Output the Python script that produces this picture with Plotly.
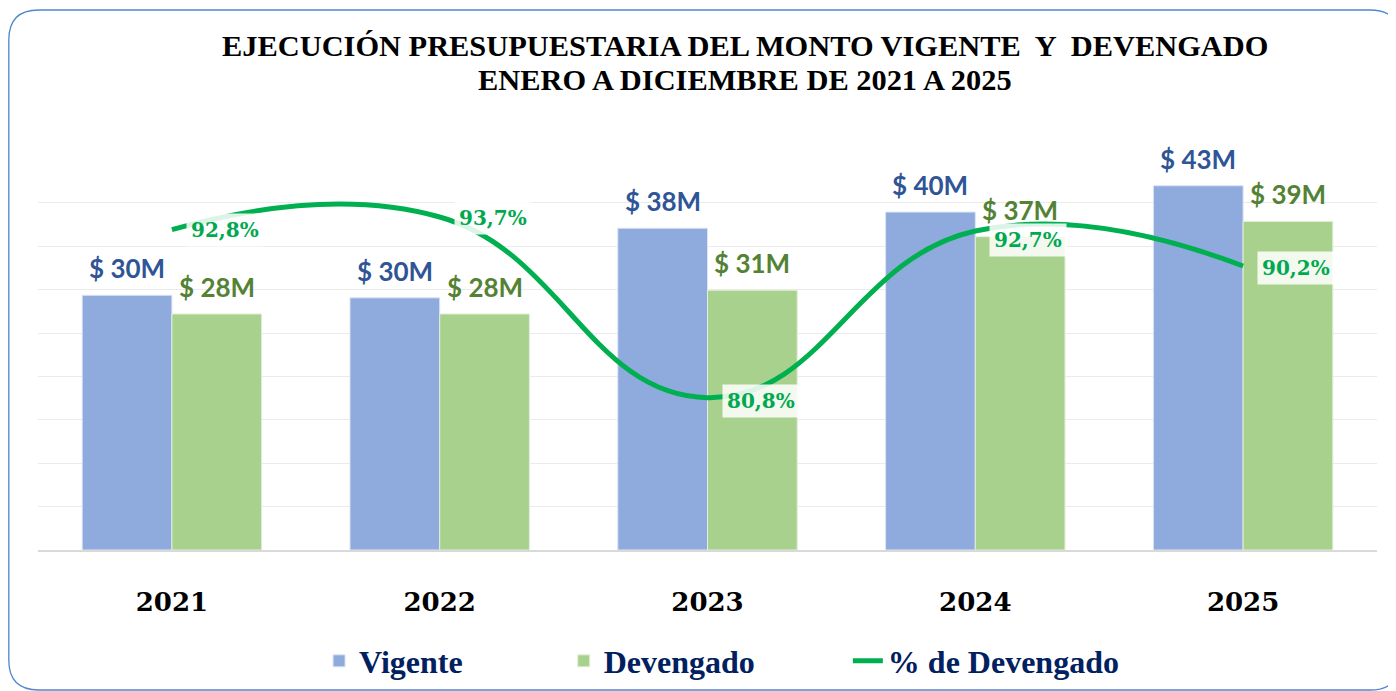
import plotly.graph_objects as go

# ---- data ----
years = ["2021", "2022", "2023", "2024", "2025"]
vigente = [30.0, 29.7, 37.9, 39.8, 42.9]          # millions
devengado = [27.8, 27.8, 30.6, 36.9, 38.7]        # millions
pct_devengado = [92.8, 93.7, 80.8, 92.7, 90.2]    # percent

series_names = ["Vigente", "Devengado", "% de Devengado"]
title_lines = ["EJECUCIÓN PRESUPUESTARIA DEL MONTO VIGENTE  Y  DEVENGADO",
               "ENERO A DICIEMBRE DE 2021 A 2025"]

# ---- layout constants (figure sits inside the page's 8px body margin) ----
W, H = 1388, 683
L, R, T, B = 30, 19, 151, 141
BARGAP = 0.33
PW, PH = W - L - R, H - T - B

C_VIG, C_DEV, C_LINE = "#8FAADC", "#A9D18E", "#00B050"
C_VIG_TXT, C_DEV_TXT = "#2F5597", "#548235"

def fx(xp):
    return (xp - L) / PW

def fy(yp):
    return (H - B - yp) / PH

fig = go.Figure()
fig.add_bar(x=years, y=vigente, name=series_names[0] + "&nbsp;" * 12,
            marker=dict(color=C_VIG, line=dict(color="#DCE4F2", width=1)))
fig.add_bar(x=years, y=devengado, name=series_names[1] + "&nbsp;" * 11,
            marker=dict(color=C_DEV, line=dict(color="#E2EFD9", width=1)))
fig.add_scatter(x=years, y=pct_devengado, name=series_names[2], yaxis="y2",
                mode="lines",
                line=dict(color=C_LINE, width=5, shape="spline", smoothing=1.3))

# bar value labels
off = (1 - BARGAP) / 4
lab_font = dict(family="Lato, Open Sans, sans-serif", size=26)
for i, (v, d) in enumerate(zip(vigente, devengado)):
    fig.add_annotation(x=i - off, y=v, xref="x", yref="y", text=f"<b>$ {round(v)}M</b>",
                       showarrow=False, yanchor="middle", yshift=27,
                       font=dict(color=C_VIG_TXT, **lab_font))
    fig.add_annotation(x=i + off, y=d, xref="x", yref="y", text=f"<b>$ {round(d)}M</b>",
                       showarrow=False, yanchor="middle", yshift=27,
                       font=dict(color=C_DEV_TXT, **lab_font))

# percentage labels
pct_yshift = [0, -1, -3, -9, -2]
for i, p in enumerate(pct_devengado):
    fig.add_annotation(x=i, y=p, xref="x", yref="y2",
                       text="<b>" + f"{p:.1f}".replace(".", ",") + "%</b>",
                       showarrow=False, xanchor="left", yanchor="middle",
                       xshift=14, yshift=pct_yshift[i],
                       bgcolor="rgba(255,255,255,0.86)", borderpad=4,
                       font=dict(family="DejaVu Serif", size=20, color="#00A94F"))

# title (two lines)
for txt, yc in zip(title_lines, [38, 72]):
    fig.add_annotation(x=fx(737), y=fy(yc), xref="paper", yref="paper",
                       text=f"<b>{txt}</b>", showarrow=False,
                       xanchor="center", yanchor="middle",
                       font=dict(family="Liberation Serif", size=30.4, color="#000000"))

# rounded border
x0, x1, y0, y1, r = 0.8, 1392, 2, 682, 30
path = (f"M {fx(x0)},{fy(y0 + r)} Q {fx(x0)},{fy(y0)} {fx(x0 + r)},{fy(y0)} "
        f"L {fx(x1 - r)},{fy(y0)} Q {fx(x1)},{fy(y0)} {fx(x1)},{fy(y0 + r)} "
        f"L {fx(x1)},{fy(y1 - r)} Q {fx(x1)},{fy(y1)} {fx(x1 - r)},{fy(y1)} "
        f"L {fx(x0 + r)},{fy(y1)} Q {fx(x0)},{fy(y1)} {fx(x0)},{fy(y1 - r)} Z")
fig.add_shape(type="path", path=path, xref="paper", yref="paper",
              line=dict(color="#4F86D0", width=1.3), layer="below")

fig.update_layout(
    width=W, height=H,
    margin=dict(l=L, r=R, t=T, b=B, autoexpand=False),
    paper_bgcolor="white", plot_bgcolor="white",
    barmode="group", bargap=BARGAP, bargroupgap=0,
    xaxis=dict(showgrid=False, showline=True, linecolor="#D9D9D9", linewidth=2,
               ticks="", ticklabelstandoff=28,
               tickfont=dict(family="DejaVu Serif", size=26, color="#000000", weight="bold")),
    yaxis=dict(range=[0, 46.05], dtick=46 / 9, tick0=0, showgrid=True, gridcolor="#EBEBEB",
               gridwidth=1, showticklabels=False, zeroline=False),
    yaxis2=dict(range=[69.93, 97.84], overlaying="y", side="right", showgrid=False,
                showticklabels=False, zeroline=False),
    legend=dict(orientation="h", x=0.5105, xanchor="center", y=-0.284, yanchor="middle",
                font=dict(family="Liberation Serif", size=32, color="#002060", weight="bold"),
                traceorder="normal"),
    showlegend=True,
)

fig.write_html("out.html")
